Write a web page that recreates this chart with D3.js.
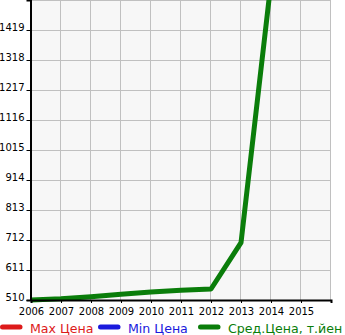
<!DOCTYPE html>
<html>
<head>
<meta charset="utf-8">
<script src="https://cdn.jsdelivr.net/npm/d3@7"></script>
<style>
  body { margin: 0; background: #fff; }
  svg { display: block; font-family: "DejaVu Sans", sans-serif; }
</style>
</head>
<body>
<svg width="345" height="335"></svg>
<script>
// chart data
years = [2006, 2007, 2008, 2009, 2010, 2011, 2012, 2013, 2014];
avgPrice = [510, 514, 521, 529, 537, 543, 547, 703, 1580];
yTicks = [510, 611, 712, 813, 914, 1015, 1116, 1217, 1318, 1419];
xTicks = [2006, 2007, 2008, 2009, 2010, 2011, 2012, 2013, 2014, 2015];
legendNames = ["Max Цена", "Min Цена", "Сред.Цена, т.йен"];
legendColors = ["#dd1a1a", "#1a1add", "#0a7d0a"];

svg = d3.select('svg');

// plot area
plotL = 31; plotR = 331; plotT = 0; plotB = 300;

x = d3.scaleLinear().domain([2006, 2016]).range([plotL, plotR]);
y = d3.scaleLinear().domain([510, 1520]).range([plotB, plotT]);

svg.append('rect')
  .attr('x', plotL).attr('y', plotT)
  .attr('width', plotR - plotL).attr('height', plotB - plotT)
  .attr('fill', '#f7f7f7');

// grid
grid = svg.append('g').attr('stroke', '#c0c0c0').attr('stroke-width', 1);
grid.selectAll('.vx')
  .data(d3.range(2007, 2017))
  .enter().append('line')
    .attr('x1', d => x(d) - 0.5).attr('x2', d => x(d) - 0.5)
    .attr('y1', plotT).attr('y2', plotB);
grid.selectAll('.hy')
  .data(yTicks.slice(1).concat([1520]))
  .enter().append('line')
    .attr('x1', plotL).attr('x2', plotR)
    .attr('y1', d => Math.round(y(d)) + 0.5).attr('y2', d => Math.round(y(d)) + 0.5);

// line
svg.append('clipPath').attr('id', 'clip')
  .append('rect').attr('x', plotL - 5).attr('y', plotT)
  .attr('width', plotR - plotL + 5).attr('height', plotB - plotT + 5);

line = d3.line()
  .x((d, i) => x(years[i]))
  .y(d => y(d));

svg.append('path')
  .datum(avgPrice)
  .attr('clip-path', 'url(#clip)')
  .attr('fill', 'none')
  .attr('stroke', legendColors[2])
  .attr('stroke-width', 5)
  .attr('stroke-linejoin', 'round')
  .attr('d', line);

// axes
yAxis = svg.append('g')
  .attr('transform', `translate(${plotL - 0.5},0)`)
  .call(d3.axisLeft(y).tickValues(yTicks).tickSize(4).tickPadding(2).tickFormat(d3.format('d')));
xAxis = svg.append('g')
  .attr('transform', `translate(0,${plotB})`)
  .call(d3.axisBottom(x).tickValues(d3.range(2006, 2017)).tickSize(3).tickPadding(5)
    .tickFormat(d => xTicks.includes(d) ? d : ''));

[yAxis, xAxis].forEach(a => {
  a.select('.domain').attr('stroke', '#000').attr('stroke-width', 2);
  a.selectAll('.tick line').attr('stroke', '#000');
  a.selectAll('.tick text').attr('fill', '#000').attr('font-size', 10)
    .attr('font-family', '"DejaVu Sans", sans-serif');
});
yAxis.selectAll('.tick text').attr('dy', '0');

// legend
legendX = [0, 98, 198];
lg = svg.selectAll('.legend')
  .data(legendNames)
  .enter().append('g')
    .attr('transform', (d, i) => `translate(${legendX[i]},327)`);
lg.append('line')
  .attr('x1', 2.5).attr('x2', 20)
  .attr('stroke', (d, i) => legendColors[i])
  .attr('stroke-width', 5)
  .attr('stroke-linecap', 'round');
lg.append('text')
  .attr('x', 30).attr('y', 5.5)
  .attr('font-size', 12.6)
  .attr('fill', (d, i) => legendColors[i])
  .text(d => d);
</script>
</body>
</html>
